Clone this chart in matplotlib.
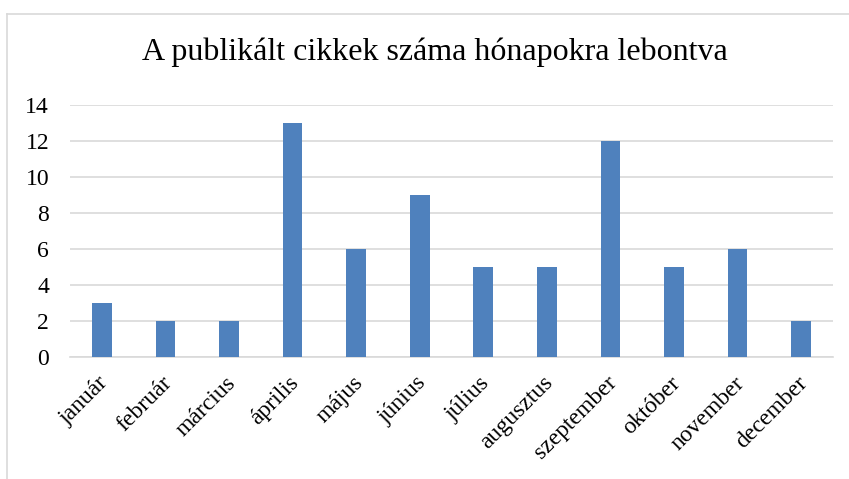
import matplotlib
matplotlib.use("Agg")
import matplotlib.pyplot as plt
import matplotlib.transforms as mtransforms
from matplotlib.lines import Line2D

months = ["január", "február", "március", "április", "május", "június",
          "július", "augusztus", "szeptember", "október", "november", "december"]
counts = [3, 2, 2, 13, 6, 9, 5, 5, 12, 5, 6, 2]
yticks = [0, 2, 4, 6, 8, 10, 12, 14]

plt.rcParams["font.family"] = ["Liberation Serif", "DejaVu Serif"]

W, H = 849, 479
fig = plt.figure(figsize=(W / 100, H / 100), dpi=100)
ax = fig.add_axes([70 / W, 1 - 357 / H, (833 - 70) / W, (357 - 105) / H])

x = range(len(months))
ax.bar(x, counts, width=0.31, color="#4F81BD", zorder=3)
ax.set_xlim(-0.5, len(months) - 0.5)
ax.set_ylim(0, 14)
ax.set_yticks(yticks)
ax.set_xticks(list(x))
ax.tick_params(axis="y", labelsize=17, length=0, pad=15)
ax.tick_params(axis="x", length=0, pad=9)
ax.set_xticklabels(months, rotation=45, ha="right", va="top",
                   rotation_mode="anchor", fontsize=17)
# nudge rotated labels a little left/down, like Excel places them
shift = mtransforms.ScaledTranslation(-4 / 100, -3 / 100, fig.dpi_scale_trans)
for lbl in ax.get_xticklabels():
    lbl.set_transform(lbl.get_transform() + shift)
ax.grid(axis="y", color="#D9D9D9", lw=1.2, zorder=0)
for s in ("top", "right", "left"):
    ax.spines[s].set_visible(False)
ax.spines["bottom"].set_color("#D9D9D9")
ax.spines["bottom"].set_linewidth(1.2)

fig.text(0.5 * (143 + 727) / W, 1 - 52 / H,
         "A publikált cikkek száma hónapokra lebontva",
         ha="center", va="center", fontsize=23)

# chart frame (only top and left edges visible)
fig.add_artist(Line2D([7 / W, 1], [1 - 14 / H] * 2, color="#D9D9D9", lw=1.2))
fig.add_artist(Line2D([7 / W] * 2, [0, 1 - 14 / H], color="#D9D9D9", lw=1.2))

fig.savefig("out.png", dpi=100)
